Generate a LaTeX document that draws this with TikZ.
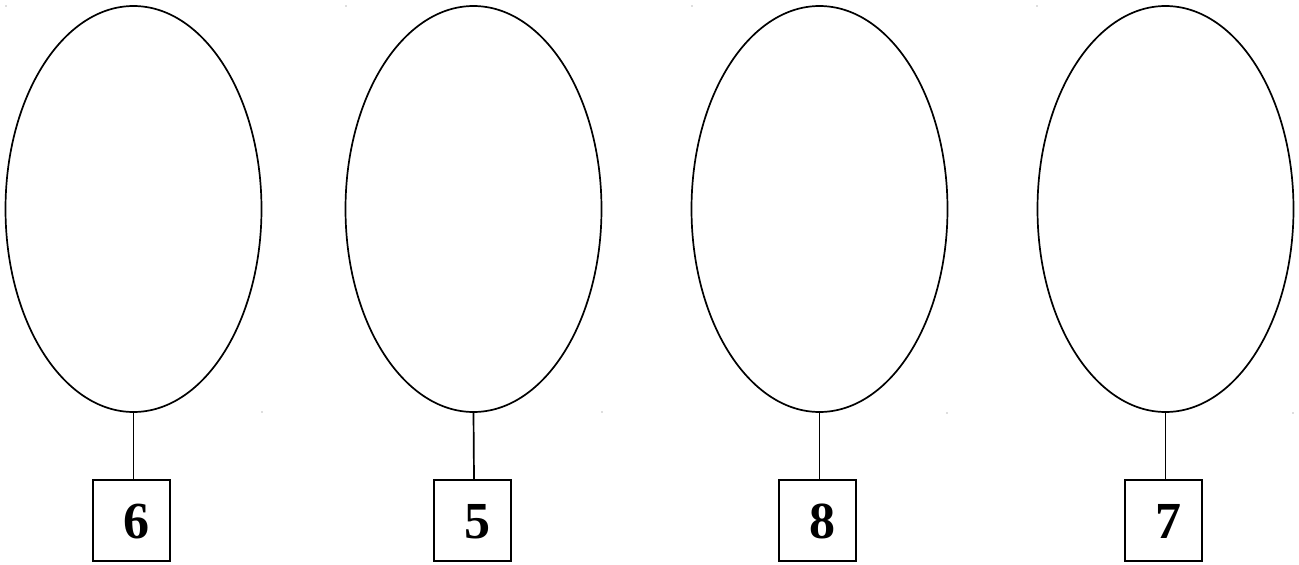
\documentclass[tikz,border=0pt]{standalone}
\usepackage{fontspec}
\setmainfont{Liberation Serif}
\usetikzlibrary{shapes.geometric}
\begin{document}
\begin{tikzpicture}[x=1pt,y=-1pt,
  oval/.style={draw=black,ellipse,line width=1.7pt,minimum width=256pt,minimum height=406pt,inner sep=0pt},
  numbox/.style={draw=black,rectangle,line width=1.8pt,minimum width=77pt,minimum height=81pt,inner sep=0pt},
  digit/.style={font=\fontsize{52}{52}\selectfont\bfseries,inner sep=0pt},
  conn/.style={line width=1.7pt},
  speck/.style={fill=black!55,draw=none,circle,inner sep=0pt,minimum size=1.3pt}]
\useasboundingbox (0,0) rectangle (1299,565);
\fill[white] (0,0) rectangle (1299,565);
% ellipses
\node[oval] (e1) at (133.5,209) {};
\node[oval] (e2) at (473.5,209) {};
\node[oval] (e3) at (819.5,209) {};
\node[oval] (e4) at (1165.5,209) {};
% boxes
\node[numbox] (b1) at (131.5,520.5) {};
\node[numbox] (b2) at (472.5,520.5) {};
\node[numbox] (b3) at (817.5,520.5) {};
\node[numbox] (b4) at (1163.5,520.5) {};
% digits
\node[digit] (n1) at ([xshift=5pt,yshift=-1pt]b1.center) {6};
\node[digit] (n2) at ([xshift=5pt,yshift=-1pt]b2.center) {5};
\node[digit] (n3) at ([xshift=5pt,yshift=-1pt]b3.center) {8};
\node[digit] (n4) at ([xshift=5pt,yshift=-1pt]b4.center) {7};
% connectors
\draw[conn] (e1.south) -- ([xshift=2pt]b1.north);
\draw[conn] (e2.south) -- ([xshift=1.5pt]b2.north);
\draw[conn] (e3.south) -- ([xshift=2pt]b3.north);
\draw[conn] (e4.south) -- ([xshift=2pt]b4.north);
% specks
\node[speck] (s1) at (6,6) {};
\node[speck] (s2) at (346,6) {};
\node[speck] (s3) at (692,6) {};
\node[speck] (s4) at (1037,6) {};
\node[speck] (s5) at (262,412) {};
\node[speck] (s6) at (602,412) {};
\node[speck] (s7) at (947,413) {};
\node[speck] (s8) at (1293,413) {};
\end{tikzpicture}
\end{document}
